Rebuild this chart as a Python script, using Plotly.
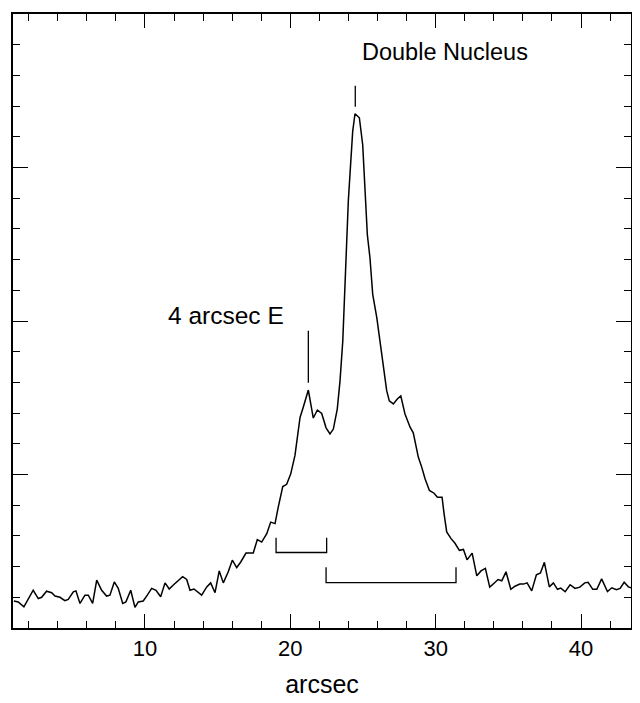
import plotly.graph_objects as go

# Profile along slit (arcsec) vs intensity (arbitrary units)
arcsec = [0.98, 1.28, 1.67, 1.97, 2.31, 2.66, 2.89, 3.23, 3.58, 3.81, 4.15, 4.49, 4.72, 5.07, 5.25,
          5.53, 5.87, 6.10, 6.40, 6.68, 7.02, 7.36, 7.59, 7.89, 8.16, 8.47, 8.69, 9.02, 9.31, 9.54,
          9.88, 10.16, 10.46, 10.76, 11.08, 11.38, 11.67, 11.95, 12.18, 12.59, 12.87, 13.10, 13.37,
          13.67, 13.90, 14.25, 14.52, 14.82, 15.11, 15.39, 15.73, 16.01, 16.31, 16.59, 16.95, 17.45,
          17.73, 18.03, 18.38, 18.65, 18.95, 19.17, 19.48, 19.75, 20.03, 20.32, 20.67, 20.89, 21.24,
          21.58, 21.86, 22.16, 22.46, 22.73, 22.96, 23.23, 23.42, 23.61, 23.76, 23.88, 23.99, 24.16,
          24.29, 24.45, 24.75, 24.98, 25.14, 25.30, 25.48, 25.67, 25.95, 26.17, 26.40, 26.63, 26.81,
          27.09, 27.36, 27.60, 27.89, 28.24, 28.46, 28.65, 28.81, 29.04, 29.27, 29.57, 29.89, 30.12,
          30.44, 30.58, 30.76, 31.06, 31.33, 31.63, 31.91, 32.16, 32.51, 32.83, 33.12, 33.42, 33.72,
          34.02, 34.29, 34.55, 34.84, 35.17, 35.46, 35.79, 36.04, 36.29, 36.61, 36.93, 37.21, 37.48,
          37.82, 38.10, 38.38, 38.61, 38.91, 39.25, 39.59, 39.92, 40.26, 40.49, 40.81, 41.09, 41.42,
          41.82, 42.12, 42.44, 42.69, 42.97, 43.26, 43.45]
intensity = [0.88, 0.85, 0.69, 0.93, 1.23, 0.96, 1.00, 1.20, 1.15, 1.04, 1.00, 0.89, 0.93, 1.18, 1.21,
             0.80, 1.07, 1.07, 0.80, 1.56, 1.23, 1.04, 1.07, 1.50, 1.29, 0.80, 0.85, 1.23, 0.67, 0.85,
             0.88, 1.07, 1.29, 1.23, 1.02, 1.47, 1.27, 1.40, 1.50, 1.67, 1.58, 1.23, 1.27,
             1.15, 1.07, 1.34, 1.47, 1.15, 1.86, 1.47, 1.83, 2.21, 1.97, 2.15, 2.44, 2.44,
             2.88, 2.80, 3.07, 3.45, 3.40, 3.94, 4.61, 4.68, 5.02, 5.62, 6.86, 7.19, 7.75,
             6.84, 7.10, 6.99, 6.52, 6.32, 6.48, 7.13, 8.05, 9.35, 11.30, 12.81, 13.90, 15.19,
             16.17, 16.75, 16.62, 15.74, 14.44, 12.81, 12.06, 10.87, 10.11, 9.35, 8.59, 7.73, 7.40,
             7.30, 7.46, 7.56, 6.97, 6.54, 6.36, 5.88, 5.56, 5.24, 4.86, 4.48, 4.39, 4.26,
             4.26, 3.72, 3.13, 2.91, 2.76, 2.53, 2.56, 2.22, 2.44, 1.70, 1.86, 1.94, 1.33,
             1.46, 1.58, 1.54, 1.83, 1.26, 1.36, 1.43, 1.43, 1.47, 1.21, 1.73, 1.79, 2.14,
             1.34, 1.47, 1.26, 1.30, 1.18, 1.41, 1.29, 1.33, 1.47, 1.49, 1.26, 1.26, 1.60,
             1.19, 1.31, 1.25, 1.29, 1.49, 1.34, 1.31]

# Annotation markers
dn_label = "Double Nucleus"
dn_x = 24.47
dn_y = [16.98, 17.66]
dn_text_pos = (30.65, 18.77)

e4_label = "4 arcsec E"
e4_x = 21.24
e4_y = [7.99, 9.68]
e4_text_pos = (15.57, 10.19)

bracket1_x = [19.02, 22.50]
bracket1_y = [2.46, 2.94]
bracket2_x = [22.46, 31.40]
bracket2_y = [1.48, 1.98]

x_range = [0.92, 43.44]
y_range = [0, 20]

FONT = "Liberation Sans, Arial, Helvetica, sans-serif"

fig = go.Figure()
fig.add_trace(go.Scatter(x=arcsec, y=intensity, mode="lines",
                         line=dict(color="black", width=1.5), showlegend=False))

line_style = dict(color="black", width=1.3)
fig.add_shape(type="line", x0=dn_x, x1=dn_x, y0=dn_y[0], y1=dn_y[1], line=line_style)
fig.add_shape(type="line", x0=e4_x, x1=e4_x, y0=e4_y[0], y1=e4_y[1], line=line_style)
for bx, by in [(bracket1_x, bracket1_y), (bracket2_x, bracket2_y)]:
    fig.add_trace(go.Scatter(x=[bx[0], bx[0], bx[1], bx[1]],
                             y=[by[1], by[0], by[0], by[1]],
                             mode="lines", line=line_style, showlegend=False))

fig.add_annotation(x=dn_text_pos[0], y=dn_text_pos[1], text=dn_label, showarrow=False,
                   font=dict(family=FONT, size=23.5, color="black"))
fig.add_annotation(x=e4_text_pos[0], y=e4_text_pos[1], text=e4_label, showarrow=False,
                   font=dict(family=FONT, size=24.5, color="black"))

fig.update_layout(
    width=632, height=695,
    margin=dict(l=5, r=9, t=4, b=75),
    paper_bgcolor="white", plot_bgcolor="white",
    font=dict(family=FONT, size=22, color="black"),
)
fig.update_xaxes(
    range=x_range, showgrid=False, zeroline=False,
    showline=True, linecolor="black", linewidth=1.5, mirror="ticks",
    ticks="inside", ticklen=14, tickwidth=1.3, tickcolor="black",
    tick0=0, dtick=10,
    tickfont=dict(family=FONT, size=22, color="black"),
    minor=dict(ticks="inside", ticklen=7, dtick=2, tick0=0, tickwidth=1.3, tickcolor="black", showgrid=False),
    title=dict(text="arcsec", font=dict(family=FONT, size=25, color="black")),
)
fig.update_yaxes(
    range=y_range, showgrid=False, zeroline=False,
    showline=True, linecolor="black", linewidth=1.5, mirror="ticks",
    ticks="inside", ticklen=15, tickwidth=1.3, tickcolor="black",
    tick0=0, dtick=5, showticklabels=False,
    minor=dict(ticks="inside", ticklen=7, dtick=1, tick0=0, tickwidth=1.3, tickcolor="black", showgrid=False),
)

fig.write_html("out.html")
